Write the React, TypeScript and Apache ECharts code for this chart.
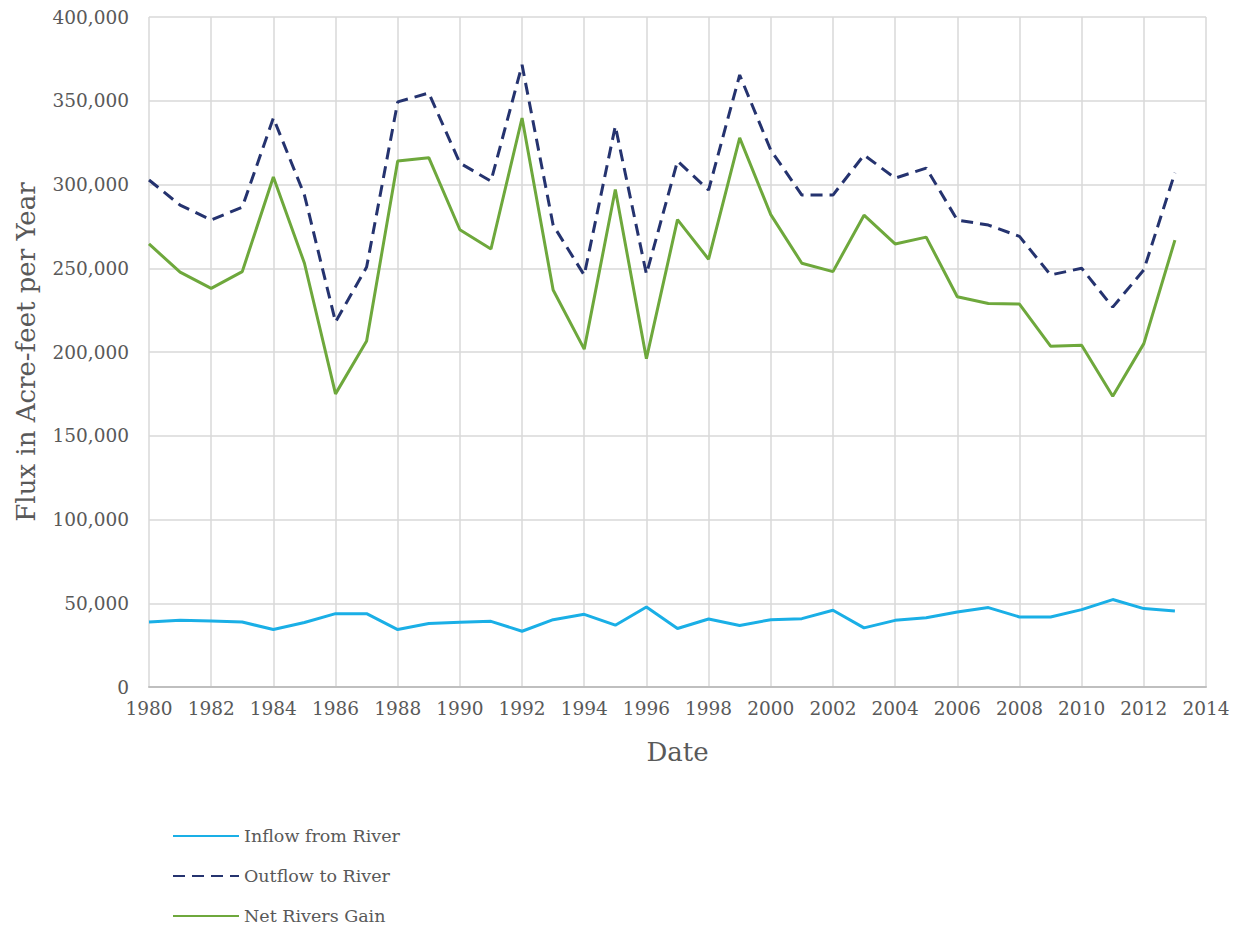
import React, { useEffect, useRef } from "react";
import * as echarts from "echarts";

const years = [
  1980, 1981, 1982, 1983, 1984, 1985, 1986, 1987, 1988, 1989, 1990, 1991,
  1992, 1993, 1994, 1995, 1996, 1997, 1998, 1999, 2000, 2001, 2002, 2003,
  2004, 2005, 2006, 2007, 2008, 2009, 2010, 2011, 2012, 2013,
];

const inflowFromRiver = [
  38800, 39800, 39400, 38800, 34300, 38500, 43800, 43800, 34300, 37900,
  38600, 39200, 33300, 40200, 43400, 36900, 47800, 34900, 40600, 36700,
  40200, 40800, 45800, 35300, 39800, 41400, 44800, 47400, 41800, 41800,
  46200, 52200, 46800, 45400,
];

const outflowToRiver = [
  302700, 287700, 278800, 286500, 339700, 293700, 217900, 250700, 349300,
  354600, 312800, 302000, 371400, 275700, 245900, 334900, 246500, 314000,
  296700, 365400, 320500, 293700, 293700, 317600, 303800, 309800, 278800,
  275800, 269000, 246000, 250000, 226800, 249000, 307000,
];

const netRiversGain = [
  264500, 247700, 238000, 248000, 304500, 253000, 175000, 206500, 314000,
  316000, 273000, 261500, 339700, 237000, 201700, 297000, 196000, 279000,
  255400, 327800, 282000, 253000, 248000, 281700, 264500, 268600, 233000,
  229000, 228600, 203500, 204000, 173600, 205000, 266800,
];

const seriesNames = ["Inflow from River", "Outflow to River", "Net Rivers Gain"];
const xTitle = "Date";
const yTitle = "Flux in Acre-feet per Year";

const FONT = "DejaVu Serif";

export default function App() {
  const ref = useRef<HTMLDivElement>(null);

  useEffect(() => {
    if (!ref.current) return;
    const chart = echarts.init(ref.current, null, { renderer: "svg" });
    const pair = (vals: number[]) => years.map((y, i) => [y, vals[i]]);
    chart.setOption({
      animation: false,
      backgroundColor: "#ffffff",
      grid: { left: 149, right: 36, top: 17, bottom: 248, containLabel: false },
      xAxis: {
        type: "value",
        min: 1980,
        max: 2014,
        interval: 2,
        name: xTitle,
        nameLocation: "middle",
        nameGap: 52,
        nameTextStyle: { fontFamily: FONT, fontSize: 26, color: "#595959" },
        axisLine: { show: true, lineStyle: { color: "#BFBFBF", width: 2 } },
        axisTick: { show: false },
        axisLabel: {
          fontFamily: FONT,
          fontSize: 18.5,
          color: "#595959",
          margin: 12,
          formatter: (v: number) => String(v),
        },
        splitLine: { show: true, lineStyle: { color: "#D9D9D9", width: 1.5 } },
      },
      yAxis: {
        type: "value",
        min: 0,
        max: 400000,
        interval: 50000,
        name: yTitle,
        nameLocation: "middle",
        nameGap: 110,
        nameTextStyle: { fontFamily: FONT, fontSize: 26, color: "#595959" },
        axisLine: { show: false },
        axisTick: { show: false },
        axisLabel: {
          fontFamily: FONT,
          fontSize: 18.5,
          color: "#595959",
          margin: 20,
          formatter: (v: number) => v.toLocaleString("en-US"),
        },
        splitLine: { show: true, lineStyle: { color: "#D9D9D9", width: 1.5 } },
      },
      legend: {
        orient: "vertical",
        left: 172,
        top: 827,
        height: 107,
        padding: 0,
        itemWidth: 66,
        itemHeight: 14,
        itemGap: 22,
        itemStyle: { opacity: 0 },
        textStyle: { fontFamily: FONT, fontSize: 17.5, color: "#595959" },
        data: seriesNames,
      },
      series: [
        {
          name: seriesNames[0],
          type: "line",
          data: pair(inflowFromRiver),
          symbol: "none",
          lineStyle: { color: "#1AAFE6", width: 3 },
          itemStyle: { color: "#1AAFE6" },
        },
        {
          name: seriesNames[1],
          type: "line",
          data: pair(outflowToRiver),
          symbol: "none",
          lineStyle: { color: "#25336F", width: 3, type: [12, 7] },
          itemStyle: { color: "#25336F" },
        },
        {
          name: seriesNames[2],
          type: "line",
          data: pair(netRiversGain),
          symbol: "none",
          lineStyle: { color: "#6EA83C", width: 3 },
          itemStyle: { color: "#6EA83C" },
        },
      ],
    });
    return () => chart.dispose();
  }, []);

  return (
    <div
      ref={ref}
      style={{ position: "fixed", left: 0, top: 0, width: 1242, height: 935, background: "#fff" }}
    />
  );
}
